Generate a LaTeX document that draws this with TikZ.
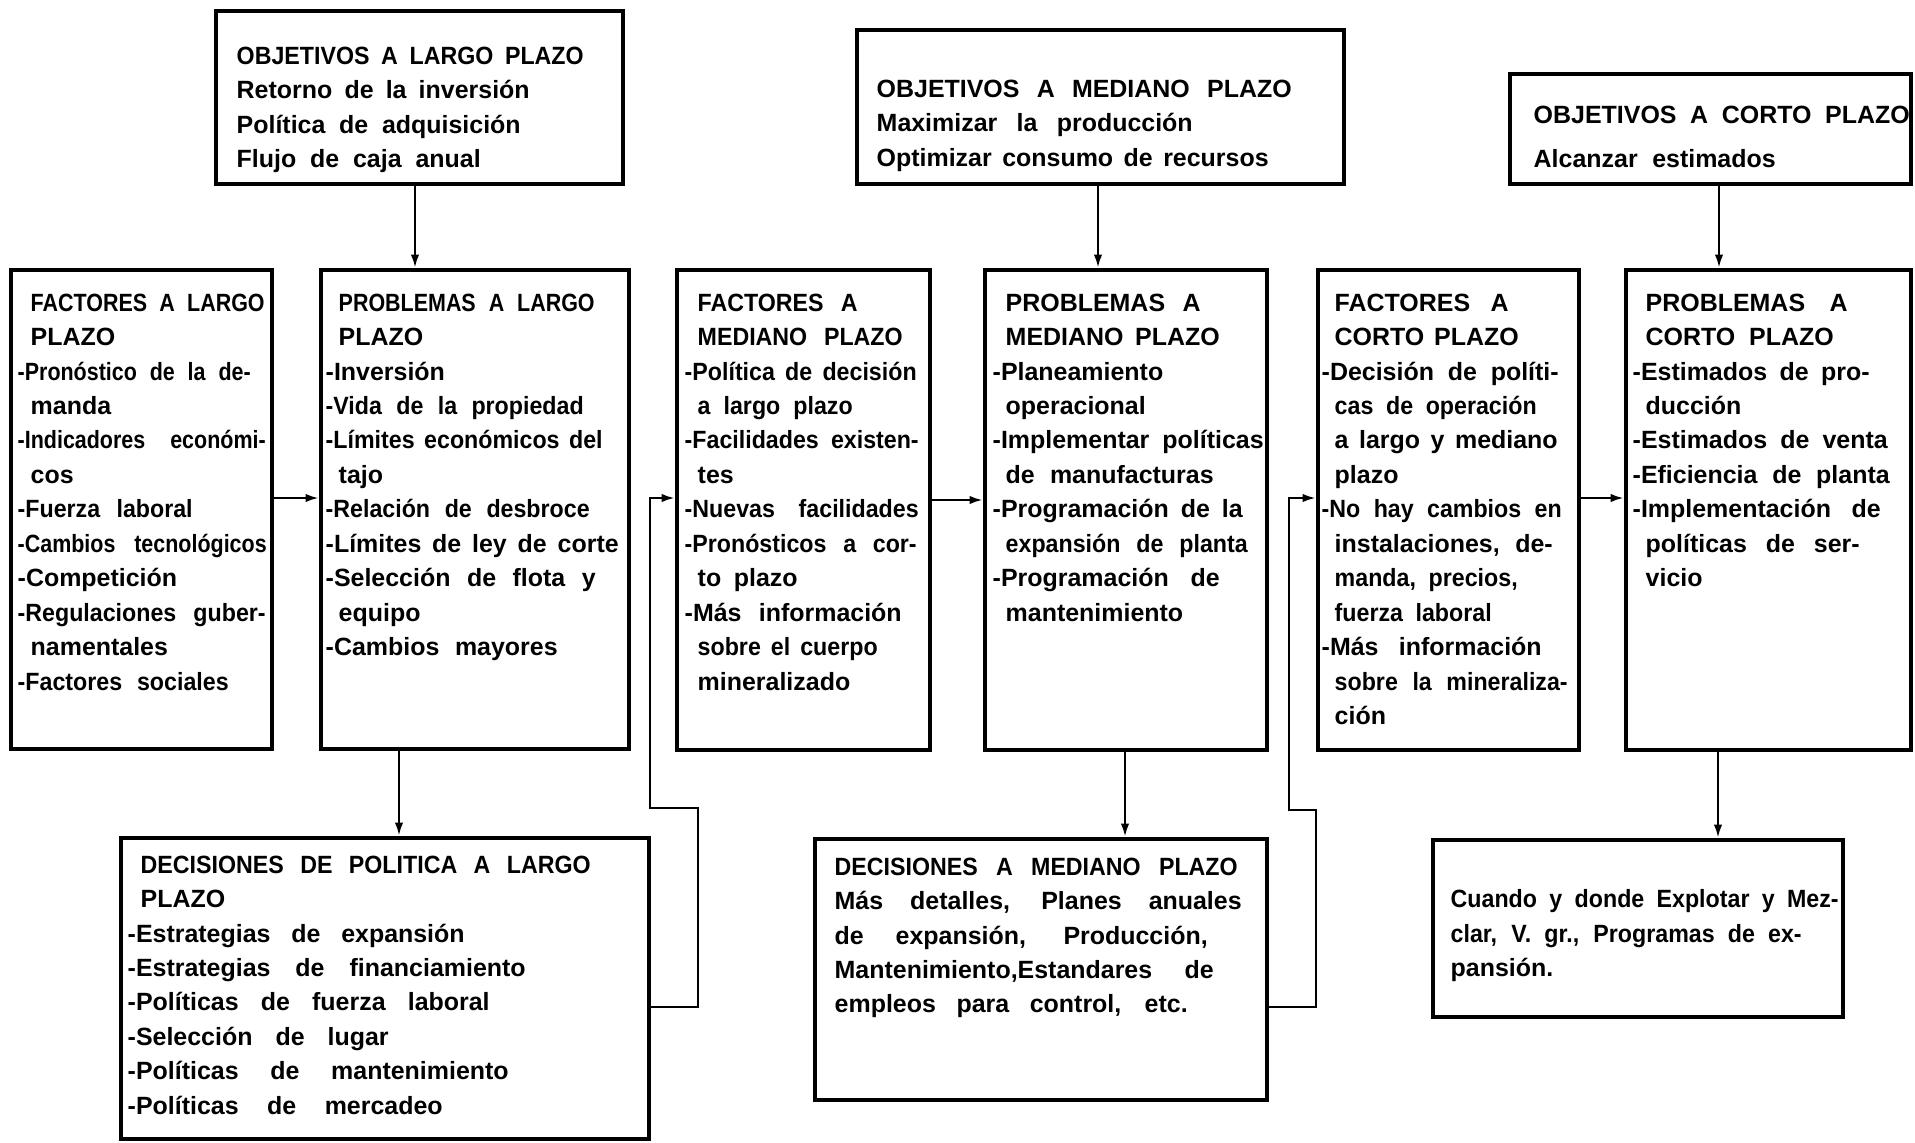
\documentclass[tikz,border=0pt]{standalone}
\usepackage{fontspec}
\setmainfont{Liberation Sans}
\newfontfamily\lettA[WordSpace=1.4]{Liberation Sans}
\newfontfamily\lettB[FakeStretch=0.93,WordSpace=1.4]{Liberation Sans}
\newfontfamily\lettC[FakeStretch=0.86,WordSpace=1.4]{Liberation Sans}
\newfontfamily\lettD[FakeStretch=0.8,WordSpace=1.4]{Liberation Sans}
\usetikzlibrary{arrows.meta,fit}
\newcommand\ind{\hspace*{1.3mm}}
\newlength\natw
\newcommand\fitw[2]{%
  \settowidth\natw{#2}%
  \ifdim\natw>#1\relax
    \settowidth\natw{\lettB\bfseries #2}%
    \ifdim\natw>#1\relax
      \settowidth\natw{\lettC\bfseries #2}%
      \ifdim\natw>#1\relax
        \makebox[#1][s]{\lettD\bfseries #2}%
      \else\makebox[#1][s]{\lettC\bfseries #2}\fi
    \else\makebox[#1][s]{\lettB\bfseries #2}\fi
  \else\makebox[#1][s]{#2}\fi}
\tikzset{
  box/.style={draw, line width=1.4pt, inner sep=0pt},
  txt/.style={anchor=north west, inner sep=0pt, align=left,
    font={\lettA\bfseries\fontsize{7.1pt}{9.8pt}\selectfont}},
  arr/.style={line width=0.6pt, -{Latex[length=1.3mm,width=0.85mm]}},
  ln/.style={line width=0.6pt}
}
\begin{document}
\begin{tikzpicture}[x=0.1mm,y=-0.1mm]
\fill[white] (0,0) rectangle (1915,1142);
\useasboundingbox (0,0) rectangle (1915,1142);

% ---------- boxes ----------
\node[box, fit={(216,11) (623,184)}] (ol) {};
\node[box, fit={(857,30) (1344,184)}] (om) {};
\node[box, fit={(1510,74) (1911,184)}] (oc) {};
\node[box, fit={(11,270) (272,749)}] (fl) {};
\node[box, fit={(321,270) (629,749)}] (pl) {};
\node[box, fit={(677,270) (930,750)}] (fm) {};
\node[box, fit={(985,270) (1267,750)}] (pm) {};
\node[box, fit={(1318,270) (1579,750)}] (fc) {};
\node[box, fit={(1626,270) (1911,750)}] (pc) {};
\node[box, fit={(121,838) (649,1139)}] (dl) {};
\node[box, fit={(815,839) (1267,1100)}] (dm) {};
\node[box, fit={(1433,840) (1843,1017)}] (cu) {};

% ---------- texts ----------
\node[txt] (ol-t) at (236,46) {%
\fitw{34.7mm}{OBJETIVOS A LARGO PLAZO}\\
\fitw{29.3mm}{Retorno de la inversión}\\
\fitw{28.4mm}{Política de adquisición}\\
\fitw{24.4mm}{Flujo de caja anual}};

\node[txt] (om-t) at (876,79) {%
\fitw{41.5mm}{OBJETIVOS A MEDIANO PLAZO}\\
\fitw{31.6mm}{Maximizar la producción}\\
\fitw{39.2mm}{Optimizar consumo de recursos}};

\node[txt] (oc-t) at (1533,105) {%
\fitw{37.6mm}{OBJETIVOS A CORTO PLAZO}\\[0.95mm]
\fitw{24.2mm}{Alcanzar estimados}};

\node[txt] (fl-t) at (17,293) {%
\ind\fitw{23.4mm}{FACTORES A LARGO}\\
\ind PLAZO\\
\fitw{23.3mm}{-Pronóstico de la de-}\\
\ind manda\\
\fitw{24.8mm}{-Indicadores económi-}\\
\ind cos\\
\fitw{17.5mm}{-Fuerza laboral}\\
\fitw{24.9mm}{-Cambios tecnológicos}\\
-Competición\\
\fitw{24.8mm}{-Regulaciones guber-}\\
\ind namentales\\
\fitw{21.1mm}{-Factores sociales}};

\node[txt] (pl-t) at (325,293) {%
\ind\fitw{25.6mm}{PROBLEMAS A LARGO}\\
\ind PLAZO\\
-Inversión\\
\fitw{25.8mm}{-Vida de la propiedad}\\
\fitw{27.7mm}{-Límites económicos del}\\
\ind tajo\\
\fitw{26.4mm}{-Relación de desbroce}\\
\fitw{29.3mm}{-Límites de ley de corte}\\
\fitw{27.0mm}{-Selección de flota y}\\
\ind equipo\\
\fitw{23.2mm}{-Cambios mayores}};

\node[txt] (fm-t) at (684,293) {%
\ind\fitw{16.0mm}{FACTORES A}\\
\ind\fitw{20.5mm}{MEDIANO PLAZO}\\
\fitw{23.2mm}{-Política de decisión}\\
\ind\fitw{15.5mm}{a largo plazo}\\
\fitw{23.4mm}{-Facilidades existen-}\\
\ind tes\\
\fitw{23.4mm}{-Nuevas facilidades}\\
\fitw{23.2mm}{-Pronósticos a cor-}\\
\ind\fitw{10.0mm}{to plazo}\\
\fitw{21.7mm}{-Más información}\\
\ind\fitw{18.0mm}{sobre el cuerpo}\\
\ind mineralizado};

\node[txt] (pm-t) at (992,293) {%
\ind\fitw{19.5mm}{PROBLEMAS A}\\
\ind\fitw{21.4mm}{MEDIANO PLAZO}\\
-Planeamiento\\
\ind operacional\\
\fitw{27.1mm}{-Implementar políticas}\\
\ind\fitw{20.8mm}{de manufacturas}\\
\fitw{25.0mm}{-Programación de la}\\
\ind\fitw{24.2mm}{expansión de planta}\\
\fitw{22.7mm}{-Programación de}\\
\ind mantenimiento};

\node[txt] (fc-t) at (1321,293) {%
\ind\fitw{17.4mm}{FACTORES A}\\
\ind\fitw{18.4mm}{CORTO PLAZO}\\
\fitw{23.7mm}{-Decisión de políti-}\\
\ind\fitw{20.2mm}{cas de operación}\\
\ind\fitw{22.3mm}{a largo y mediano}\\
\ind plazo\\
\fitw{24.0mm}{-No hay cambios en}\\
\ind\fitw{21.8mm}{instalaciones, de-}\\
\ind\fitw{18.3mm}{manda, precios,}\\
\ind\fitw{15.7mm}{fuerza laboral}\\
\fitw{22.0mm}{-Más información}\\
\ind\fitw{23.3mm}{sobre la mineraliza-}\\
\ind ción};

\node[txt] (pc-t) at (1632,293) {%
\ind\fitw{20.2mm}{PROBLEMAS A}\\
\ind\fitw{18.8mm}{CORTO PLAZO}\\
\fitw{23.7mm}{-Estimados de pro-}\\
\ind ducción\\
\fitw{25.5mm}{-Estimados de venta}\\
\fitw{25.7mm}{-Eficiencia de planta}\\
\fitw{24.8mm}{-Implementación de}\\
\ind\fitw{21.4mm}{políticas de ser-}\\
\ind vicio};

\node[txt] (dl-t) at (127,855) {%
\ind\fitw{45.0mm}{DECISIONES DE POLITICA A LARGO}\\
\ind PLAZO\\
\fitw{33.7mm}{-Estrategias de expansión}\\
\fitw{39.8mm}{-Estrategias de financiamiento}\\
\fitw{36.2mm}{-Políticas de fuerza laboral}\\
\fitw{26.1mm}{-Selección de lugar}\\
\fitw{38.1mm}{-Políticas de mantenimiento}\\
\fitw{31.5mm}{-Políticas de mercadeo}};

\node[txt] (dm-t) at (834,857) {%
\fitw{40.3mm}{DECISIONES A MEDIANO PLAZO}\\
\fitw{40.7mm}{Más detalles, Planes anuales}\\
\fitw{37.3mm}{de expansión, Producción,}\\
\fitw{37.9mm}{Mantenimiento,Estandares de}\\
\fitw{35.3mm}{empleos para control, etc.}};

\node[txt] (cu-t) at (1450,889) {%
\fitw{38.8mm}{Cuando y donde Explotar y Mez-}\\
\fitw{35.1mm}{clar, V. gr., Programas de ex-}\\
pansión.};

% ---------- connectors ----------
\draw[arr] (ol.south -| 415,0) -- (pl.north -| 415,0);
\draw[arr] (om.south -| 1098,0) -- (pm.north -| 1098,0);
\draw[arr] (oc.south -| 1719,0) -- (pc.north -| 1719,0);

\draw[arr] (fl.east |- 0,498) -- (pl.west |- 0,498);
\draw[arr] (fm.east |- 0,500) -- (pm.west |- 0,500);
\draw[arr] (fc.east |- 0,498) -- (pc.west |- 0,498);

\draw[arr] (pl.south -| 399,0) -- (dl.north -| 399,0);
\draw[arr] (pm.south -| 1125,0) -- (dm.north -| 1125,0);
\draw[arr] (pc.south -| 1718,0) -- (cu.north -| 1718,0);

\coordinate (k1) at (698,808);
\coordinate (k2) at (650,498);
\draw[arr] (dl.east |- 0,1007) -| (k1) -| (k2) -- (fm.west |- k2);

\coordinate (k3) at (1316,810);
\coordinate (k4) at (1289,498);
\draw[arr] (dm.east |- 0,1007) -| (k3) -| (k4) -- (fc.west |- k4);
\end{tikzpicture}
\end{document}
